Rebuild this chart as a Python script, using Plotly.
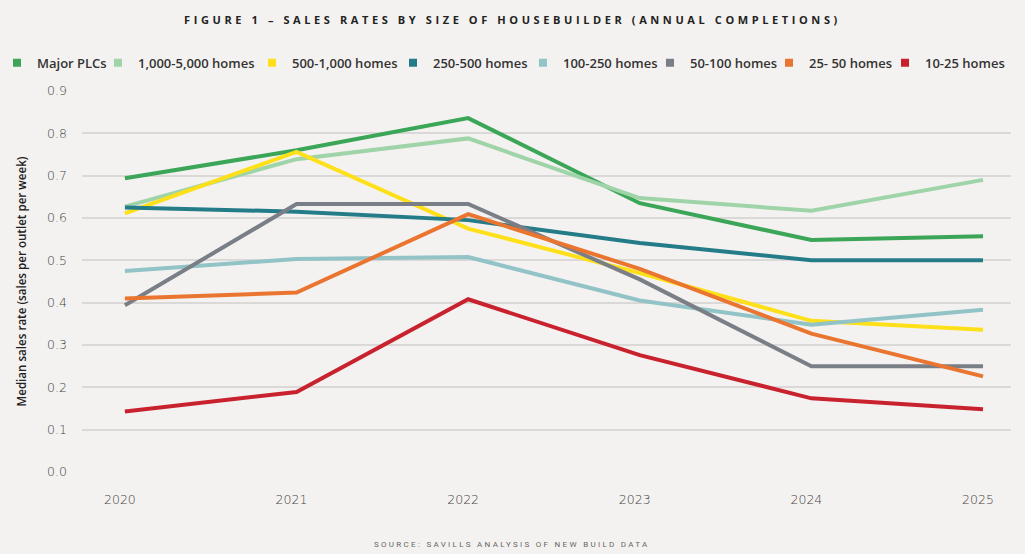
import plotly.graph_objects as go

years = [2020, 2021, 2022, 2023, 2024, 2025]

series_names = ["Major PLCs", "1,000-5,000 homes", "500-1,000 homes", "250-500 homes",
                "100-250 homes", "50-100 homes", "25- 50 homes", "10-25 homes"]

major_plcs = [0.694, 0.760, 0.836, 0.635, 0.548, 0.557]
homes_1000_5000 = [0.627, 0.739, 0.788, 0.647, 0.617, 0.690]
homes_500_1000 = [0.611, 0.756, 0.575, 0.470, 0.357, 0.336]
homes_250_500 = [0.625, 0.615, 0.595, 0.541, 0.500, 0.500]
homes_100_250 = [0.475, 0.503, 0.508, 0.405, 0.348, 0.383]
homes_50_100 = [0.394, 0.633, 0.633, 0.455, 0.250, 0.250]
homes_25_50 = [0.410, 0.424, 0.609, 0.480, 0.327, 0.226]
homes_10_25 = [0.143, 0.189, 0.408, 0.276, 0.174, 0.148]

y_ticks = [0.0, 0.1, 0.2, 0.3, 0.4, 0.5, 0.6, 0.7, 0.8, 0.9]

all_series = [major_plcs, homes_1000_5000, homes_500_1000, homes_250_500,
              homes_100_250, homes_50_100, homes_25_50, homes_10_25]
colours = ["#3ba558", "#9fd4a9", "#fde01a", "#247c89",
           "#92c3c7", "#7a7e86", "#ea7530", "#c9222f"]
# legend slot widths, tuned so the squares land where they do in the original
# (last one left to size itself from its text so it is not clipped)
legend_widths = [56, 109, 96, 85, 82, 74, 71, None]

fig = go.Figure()
for name, vals, col, lw in zip(series_names, all_series, colours, legend_widths):
    fig.add_trace(go.Scatter(x=years, y=vals, mode="lines", name=name,
                             line=dict(color=col, width=4), showlegend=False,
                             hoverinfo="x+y+name"))
    # square legend swatch
    fig.add_trace(go.Scatter(x=[None], y=[None], mode="markers", name=name,
                             marker=dict(color=col, symbol="square", size=8),
                             legendwidth=lw))

fig.update_layout(
    width=1025, height=554,
    paper_bgcolor="#f4f2f0", plot_bgcolor="#f4f2f0",
    margin=dict(l=82, r=14, t=91, b=82, autoexpand=False),
    font=dict(family="Open Sans", color="#333333"),
    title=dict(text='<span style="letter-spacing:3.6px">FIGURE 1 – SALES RATES BY SIZE OF HOUSEBUILDER (ANNUAL COMPLETIONS)</span>',
               x=0.5, xref="container", xanchor="center", y=0.963, yanchor="middle",
               font=dict(family="Open Sans", size=11, weight=700, color="#222222")),
    legend=dict(orientation="h", x=-0.0915, xanchor="left", y=1.074, yanchor="middle",
                font=dict(family="Open Sans", size=13, weight=600, color="#333333"),
                bgcolor="rgba(0,0,0,0)", itemwidth=30, tracegroupgap=0),
    xaxis=dict(range=[2019.75, 2025.163], tickvals=years, ticktext=[str(y) for y in years],
               showgrid=False, zeroline=False, showline=False, ticks="",
               tickfont=dict(family="DejaVu Sans", size=12.5, weight=300, color="#454545"),
               ticklabelshift=-5, ticklabelstandoff=18),
    yaxis=dict(range=[0, 0.9], tickvals=y_ticks, tickformat=".1f", automargin=False,
               showgrid=True, gridcolor="#dbd9d7", gridwidth=2, zeroline=False,
               showline=False, ticks="", ticklabelstandoff=14,
               tickfont=dict(family="DejaVu Sans", size=12.5, weight=300, color="#454545"),
               title=dict(text="Median sales rate (sales per outlet per week)", standoff=18,
                          font=dict(family="Open Sans", size=11.6, weight=600, color="#222222"))),
)

fig.add_annotation(text='<span style="letter-spacing:2.3px">SOURCE: SAVILLS ANALYSIS OF NEW BUILD DATA</span>',
                   xref="paper", yref="paper", x=0.463, y=-0.19, xanchor="center", yanchor="middle",
                   showarrow=False, font=dict(family="Roboto", size=8, color="#666666"))

# drop the page's default 8px body margin so the figure sits at the window's corner
fig.write_html("out.html", config={"displayModeBar": False},
               post_script="document.body.style.margin='0';document.body.style.background='#f4f2f0';")
